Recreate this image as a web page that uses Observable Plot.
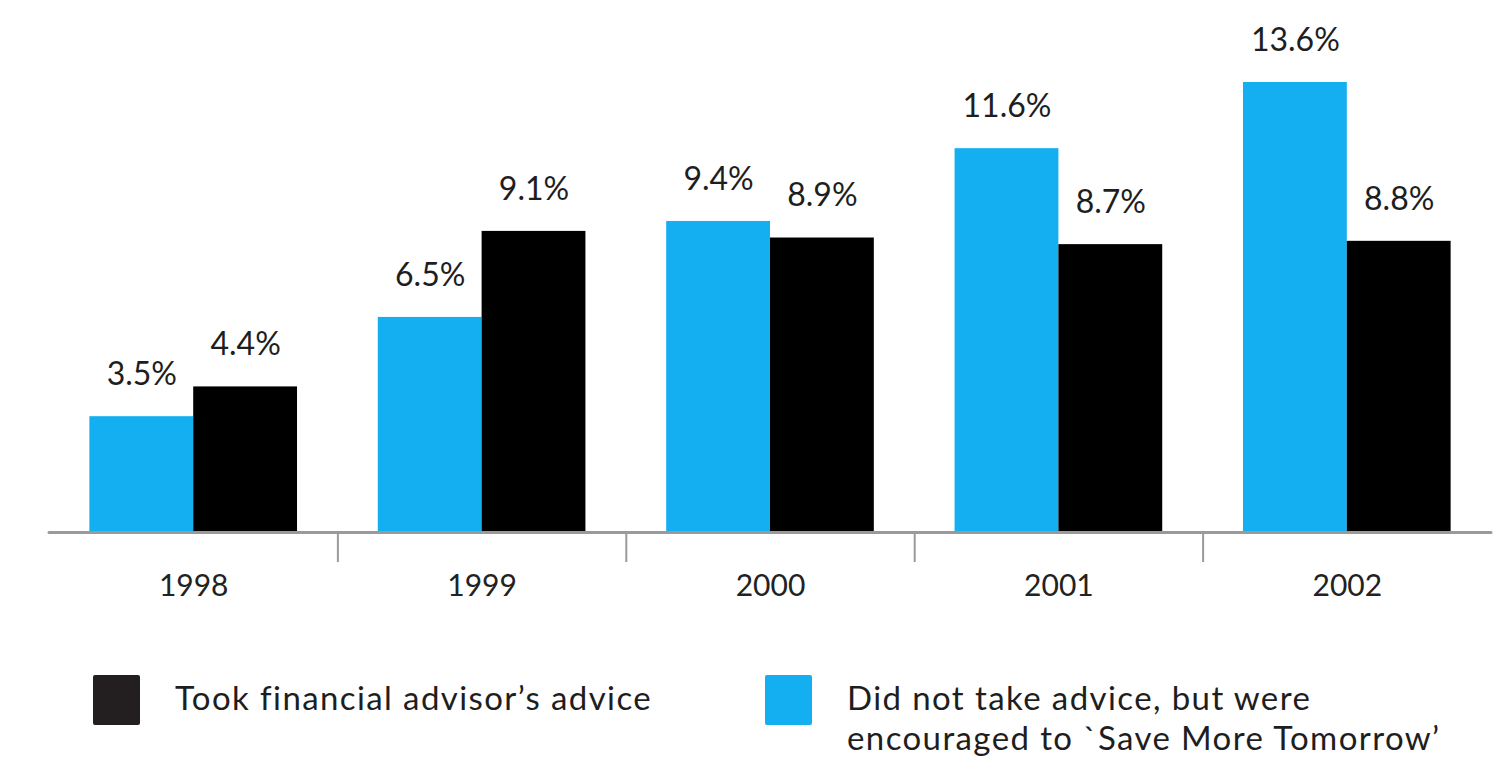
<!DOCTYPE html>
<html>
<head>
<meta charset="utf-8">
<script src="https://cdn.jsdelivr.net/npm/d3@7"></script>
<script src="https://cdn.jsdelivr.net/npm/@observablehq/plot@0.6"></script>
<style>
  body { margin: 0; background: #fff; font-family: "Lato", "Open Sans", sans-serif; }
  #chart svg { display: block; }
  .legend { position: relative; height: 117px; color: #1e1e1e; font-size: 33px; letter-spacing: 1.4px; }
  .item { position: absolute; top: 35px; display: flex; align-items: flex-start; }
  .sw { width: 47px; height: 50px; border-radius: 2px; margin-right: 35px; flex: none; }
  .lbl { line-height: 40px; margin-top: 2px; white-space: nowrap; }
</style>
</head>
<body>
<div id="chart"></div>
<div class="legend" id="legend"></div>
<script>
const years = [1998, 1999, 2000, 2001, 2002];
const saveMoreTomorrow = [3.5, 6.5, 9.4, 11.6, 13.6];
const tookAdvice = [4.4, 9.1, 8.9, 8.7, 8.8];
const seriesLabels = ["Took financial advisor’s advice", "Did not take advice, but were<br>encouraged to `Save More Tomorrow’"];
const seriesColors = ["#000000", "#14aff0"];

const barW = 0.36;
const data = years.flatMap((yr, i) => [
  {year: yr, series: "smt", value: saveMoreTomorrow[i], side: -1},
  {year: yr, series: "adv", value: tookAdvice[i], side: 1}
]);

const chart = Plot.plot({
  width: 1496,
  height: 640,
  marginTop: 82,
  marginBottom: 108,
  marginLeft: 49,
  marginRight: 5,
  x: {domain: [1997.5, 2002.5], axis: null},
  y: {domain: [0, 13.6], axis: null},
  style: {fontFamily: "Lato, 'Open Sans', sans-serif", color: "#222"},
  marks: [
    Plot.rectY(data, {
      x1: d => d.side < 0 ? d.year - barW : d.year,
      x2: d => d.side < 0 ? d.year : d.year + barW,
      y1: 0,
      y2: "value",
      fill: d => d.series === "smt" ? seriesColors[1] : seriesColors[0]
    }),
    Plot.ruleY([0], {stroke: "#9a9a9a", strokeWidth: 3, strokeLinecap: "round"}),
    Plot.axisX({
      ticks: years.slice(0, -1).map(y => y + 0.5),
      tickSize: 30,
      tickFormat: () => "",
      stroke: "#9a9a9a",
      strokeWidth: 2
    }),
    Plot.axisX({
      ticks: years,
      tickSize: 0,
      tickPadding: 42,
      tickFormat: d => String(d),
      fontSize: 30,
      fill: "#222"
    }),
    Plot.text(data, {
      x: d => d.year + d.side * barW / 2,
      y: "value",
      text: d => d.value.toFixed(1) + "%",
      dy: -42,
      fontSize: 32,
      fill: "#1e1e1e",
      style: {letterSpacing: "2px"}
    })
  ]
});
document.getElementById("chart").appendChild(chart);

const legend = document.getElementById("legend");
const lefts = [93, 765];
seriesLabels.forEach((lab, i) => {
  const it = document.createElement("div");
  it.className = "item";
  it.style.left = lefts[i] + "px";
  it.innerHTML = `<div class="sw" style="background:${i === 0 ? "#231f20" : seriesColors[1]}"></div><div class="lbl">${lab}</div>`;
  legend.appendChild(it);
});
</script>
</body>
</html>
